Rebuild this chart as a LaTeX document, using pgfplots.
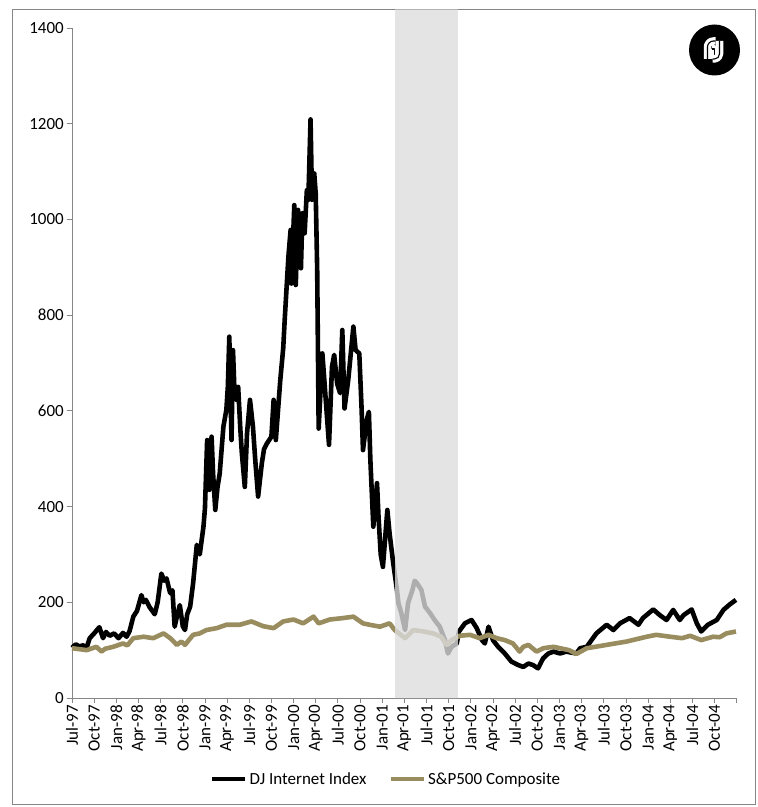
\documentclass[border=0pt]{standalone}
\usepackage{pgfplots}
\pgfplotsset{compat=1.18}
\usepackage{fontspec}
\setmainfont{Carlito}

\definecolor{spcol}{RGB}{153,141,96}
\definecolor{axgray}{RGB}{134,134,134}
\definecolor{shade}{RGB}{221,221,221}

% x = months since Jul-97
\pgfplotstableread{
m v
0.0 105
0.5 112
1.0 108
1.5 110
2.0 106
2.4 125
3.0 135
3.7 148
4.2 125
4.6 138
5.1 130
5.7 135
6.3 125
6.9 136
7.4 128
7.8 140
8.3 170
8.8 182
9.4 215
9.7 200
10.0 205
10.5 190
11.2 175
11.6 200
12.1 260
12.5 245
12.8 250
13.3 219
13.6 225
13.9 149
14.2 170
14.6 194
15.0 150
15.3 142
15.6 175
16.0 191
16.4 240
16.9 320
17.3 300
17.8 358
18.0 396
18.3 539
18.6 435
18.9 546
19.1 470
19.4 393
19.7 440
20.0 469
20.5 567
20.9 602
21.1 650
21.3 755
21.6 539
21.8 727
22.0 640
22.2 623
22.5 650
22.8 560
23.0 511
23.4 441
23.7 553
24.1 623
24.5 567
24.8 500
25.2 421
25.7 490
26.0 520
26.4 532
27.0 546
27.3 623
27.6 539
28.2 664
28.6 731
28.8 790
29.3 922
29.6 978
29.7 866
30.1 1030
30.3 863
30.6 1020
31.0 898
31.2 1013
31.5 971
31.8 1061
32.0 1041
32.3 1209
32.5 1041
32.8 1096
33.0 1054
33.2 894
33.4 563
33.9 720
34.2 657
34.8 529
35.2 692
35.5 717
35.9 657
36.3 637
36.6 769
36.9 605
37.4 664
38.1 776
38.4 727
38.9 720
39.2 609
39.4 518
39.9 581
40.2 598
40.4 497
40.8 358
41.3 449
41.5 380
41.8 300
42.1 274
42.7 393
43.0 344
43.5 281
44.0 226
44.2 198
44.6 177
45.1 142
45.5 198
46.1 226
46.4 245
46.7 240
47.3 226
47.8 191
48.5 177
49.1 163
49.8 149
50.5 121
50.9 93
51.4 107
52.1 114
52.4 139
53.2 156
54.1 163
54.8 146
55.5 121
55.9 114
56.4 149
57.0 121
57.7 107
58.6 93
59.5 76
60.4 69
61.1 65
61.8 72
62.4 69
63.1 62
63.8 83
64.5 93
65.2 97
66.1 93
66.9 97
68.3 93
68.8 104
69.7 107
71.0 135
72.4 153
73.3 142
74.2 156
75.5 167
76.7 153
77.3 167
78.7 185
79.6 173
80.5 163
81.4 184
82.3 163
82.8 173
83.9 185
84.6 156
85.2 139
86.1 153
87.3 163
88.2 184
89.1 196
89.9 205
}\djdata

\pgfplotstableread{
m v
0.0 104
1.0 102
2.0 100
3.3 107
4.0 97
4.5 103
5.6 107
6.9 114
7.5 110
8.3 125
9.7 128
11.0 125
12.4 135
13.3 125
14.2 111
14.8 118
15.3 111
16.4 132
17.3 135
18.2 142
19.6 146
20.9 153
22.7 153
24.3 160
25.9 150
27.3 146
28.6 160
30.0 164
31.3 156
32.7 170
33.4 156
34.9 164
36.7 167
38.1 170
39.4 156
40.3 153
41.7 149
43.0 156
43.7 142
45.1 125
46.2 142
47.6 139
48.9 135
50.0 128
50.7 111
51.4 121
52.5 130
53.9 132
55.2 125
56.4 132
57.5 125
58.6 121
59.7 114
60.6 97
61.1 107
61.8 111
62.9 97
63.8 104
65.2 107
66.1 104
67.3 100
68.3 92
69.7 104
72.4 111
75.1 118
77.8 128
79.1 132
81.0 128
82.6 125
83.7 130
85.2 121
86.8 128
87.7 127
88.6 135
89.9 139
}\spdata

\begin{document}
\begin{tikzpicture}
\useasboundingbox (-72pt,-109pt) rectangle (686pt,698pt);
\draw[axgray, line width=0.8pt] (-59.3pt,-106pt) rectangle (683pt,688.7pt);
\begin{axis}[
    scale only axis,
    width=664.7pt, height=670pt,
    xmin=0, xmax=90, ymin=0, ymax=1400,
    clip=false,
    axis lines*=left,
    axis line style={axgray, line width=0.8pt},
    tick style={axgray, line width=0.8pt},
    tick align=outside,
    major tick length=5pt,
    xtick={0,3,...,90},
    xticklabels={Jul-97,Oct-97,Jan-98,Apr-98,Jul-98,Oct-98,Jan-99,Apr-99,Jul-99,Oct-99,Jan-00,Apr-00,Jul-00,Oct-00,Jan-01,Apr-01,Jul-01,Oct-01,Jan-02,Apr-02,Jul-02,Oct-02,Jan-03,Apr-03,Jul-03,Oct-03,Jan-04,Apr-04,Jul-04,Oct-04,{}},
    xticklabel style={rotate=90, anchor=east, font=\fontsize{17}{20}\selectfont, text=black, inner sep=2pt},
    ytick={0,200,...,1400},
    yticklabel style={font=\fontsize{17}{20}\selectfont, text=black, inner sep=3pt},
    /pgf/number format/assume math mode=true,
    /pgf/number format/1000 sep={},
    legend columns=2,
    legend style={at={(0.4724,-0.1209)}, anchor=center, draw=none, fill=none,
        font=\fontsize{17}{20}\selectfont,
        /tikz/every even column/.append style={column sep=20pt}},
    legend image code/.code={\draw[#1, line width=4.6pt] (0pt,0pt) -- (33pt,0pt);},
]
\addplot[black, line width=4.6pt, line join=round] table[x=m, y=v] {\djdata};
\addlegendentry{DJ Internet Index}
\addplot[spcol, line width=4.6pt, line join=round] table[x=m, y=v] {\spdata};
\addlegendentry{S\&P500 Composite}
\addplot[draw=none, fill=shade, fill opacity=0.79, forget plot]
    coordinates {(43.75,0) (43.75,1439) (52.25,1439) (52.25,0)} \closedcycle;
\end{axis}
% logo
\fill[black] (642.5pt,648pt) circle (25.5pt);
\begin{scope}[shift={(642.5pt,648pt)}, line cap=butt, line join=round]
\tikzset{lg/.style={white, line width=3.2pt, double=black, double distance=1.1pt}}
\draw[lg] (-7pt,-9pt) -- (-7pt,3pt) arc[start angle=180, end angle=90, radius=6pt] -- (1pt,9pt);
\draw[lg] (-3pt,1pt) -- (0pt,1pt) -- (0pt,-9pt);
\draw[lg] (5pt,9pt) -- (5pt,-4pt) arc[start angle=0, end angle=-90, radius=5pt] -- (-2pt,-9pt);
\end{scope}
\end{tikzpicture}
\end{document}
